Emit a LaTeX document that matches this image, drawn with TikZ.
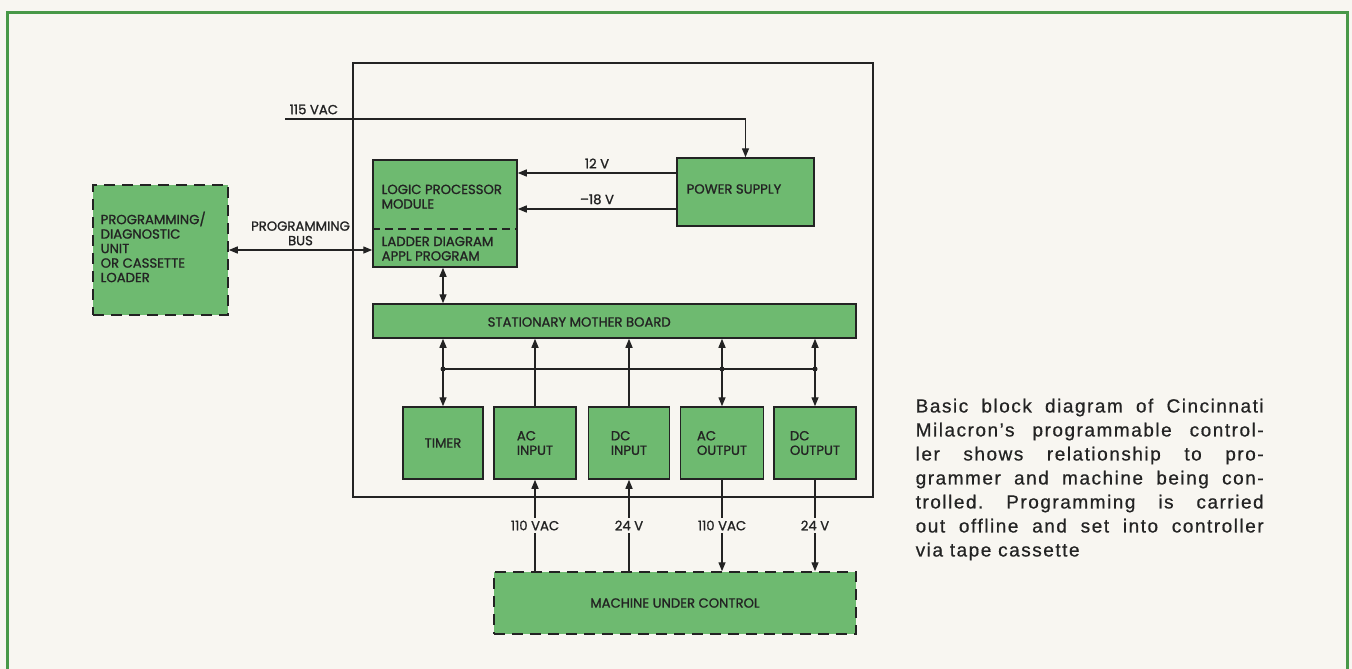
\documentclass[tikz,border=0pt]{standalone}
\usepackage{fontspec}
\usepackage{xcolor}
\usepackage{tikz}
\usetikzlibrary{arrows.meta,positioning}
\newfontfamily\boxfont[FakeBold=1.2]{Poppins}
\newfontfamily\capfont[LetterSpace=8, FakeBold=0.6]{Liberation Sans}
\definecolor{paper}{RGB}{248,246,241}
\definecolor{boxgreen}{RGB}{110,186,112}
\definecolor{framegreen}{RGB}{72,152,72}
\definecolor{ink}{RGB}{35,35,35}

\tikzset{
    block/.style={draw=ink, fill=boxgreen, line width=1.5pt, inner sep=0pt},
    dblock/.style={block, dash pattern=on 11pt off 7pt},
    lbl/.style={font=\boxfont\fontsize{13.2}{14.5}\selectfont, text=ink, align=left, inner sep=0pt},
    capstyle/.style={font=\capfont\fontsize{19}{24}\selectfont\frenchspacing, text=ink, text width=348pt, align=justify, inner sep=0pt}
}

\begin{document}
\begin{tikzpicture}[
    x=1pt, y=-1pt,
    >={Triangle[length=9pt,width=7pt]},
    line width=1.4pt,
    draw=ink
]

% Page and frame
\path[fill=paper, use as bounding box] (0,0) rectangle (1352,669);
\draw[framegreen, line width=3pt] (7,680) -- (7,13) -- (1347,13) -- (1347,680);

% Controller cabinet
\node[draw=ink, line width=1.5pt, minimum width=520, minimum height=434] (cab) at (613,280) {};

% Blocks
\node[dblock, minimum width=135, minimum height=130] (pdu) at (160.5,250) {};
\node[block, minimum width=144, minimum height=107] (lpm) at (445,213.5) {};
\draw[dash pattern=on 8pt off 5pt, line width=1.2pt] (lpm.west |- 0,229) -- (lpm.east |- 0,229);
\node[block, minimum width=137, minimum height=68] (psu) at (745.5,192) {};
\node[block, minimum width=483, minimum height=34] (board) at (614.5,321) {};
\node[dblock, minimum width=362, minimum height=62] (machine) at (675,603) {};

% I/O modules
\foreach \nm/\cx/\bw/\txt in {timer/443/80/TIMER, acin/535/82/{AC\\INPUT},
    dcin/629/81/{DC\\INPUT}, acout/722/83/{AC\\OUTPUT}, dcout/815/82/{DC\\OUTPUT}} {
    \node[block, minimum width=\bw, minimum height=72] (\nm) at (\cx,443) {};
    \node[lbl] (\nm-txt) at (\nm) {\txt};
}

% Block texts
\node[lbl, anchor=north west] (pdu-txt) at (100,211) {PROGRAMMING/\\DIAGNOSTIC\\UNIT\\OR CASSETTE\\LOADER};
\node[lbl, anchor=north west] (lpm-txt) at (381,184) {LOGIC PROCESSOR\\MODULE};
\node[lbl, anchor=north west] (ladder-txt) at (381,236) {LADDER DIAGRAM\\APPL PROGRAM};
\node[lbl, anchor=west] (psu-txt) at (686,189) {POWER SUPPLY};
\node[lbl, anchor=west] (board-txt) at (487,322) {STATIONARY MOTHER BOARD};
\node[lbl] (machine-txt) at (machine) {MACHINE UNDER CONTROL};

% Mains feed
\coordinate (mains) at (285,119);
\draw[->] (mains) -| (psu.north);
\node[lbl, anchor=south west] (vac115) at ([shift={(4,-4)}]mains) {115 VAC};

% Supply rails
\draw[->] ([yshift=19pt]psu.west) -- ([yshift=19pt]psu.west -| lpm.east)
    node[midway, above=4pt, lbl] (v12) {12 V};
\draw[->] ([yshift=-17pt]psu.west) -- ([yshift=-17pt]psu.west -| lpm.east)
    node[midway, above=4pt, lbl] (v18) {–18 V};

% Programming bus
\draw[<->] (pdu.east |- 0,250) -- (lpm.west |- 0,250)
    node[midway, above=4pt, lbl, align=center] (bus) {PROGRAMMING\\BUS};

% Processor to mother board
\draw[<->] (timer |- lpm.south) -- (timer |- board.north);

% Modules to mother board
\draw[<->] (timer.north) -- (timer |- board.south);
\draw[->] (acin.north) -- (acin |- board.south);
\draw[->] (dcin.north) -- (dcin |- board.south);
\draw[<->] (acout.north) -- (acout |- board.south);
\draw[<->] (dcout.north) -- (dcout |- board.south);
\draw (timer |- 0,369) -- (dcout |- 0,369);
\foreach \nm in {timer, acout, dcout}
    \fill[ink] (\nm |- 0,369) circle (2.5);

% Machine signals
\draw[->] (acin |- machine.north) -- (acin.south)
    node[midway, lbl, fill=paper, inner sep=3pt] (in110) {110 VAC};
\draw[->] (dcin |- machine.north) -- (dcin.south)
    node[midway, lbl, fill=paper, inner sep=3pt] (in24) {24 V};
\draw[->] (acout.south) -- (acout |- machine.north)
    node[midway, lbl, fill=paper, inner sep=3pt] (out110) {110 VAC};
\draw[->] (dcout.south) -- (dcout |- machine.north)
    node[midway, lbl, fill=paper, inner sep=3pt] (out24) {24 V};

% Caption
\node[capstyle, anchor=north west] (caption) at (915,398) {Basic block diagram of Cincinnati
    Milacron’s programmable control-\linebreak ler shows relationship to pro-\linebreak
    grammer and machine being con-\linebreak trolled. Programming is carried\linebreak
    out offline and set into controller\linebreak via tape cassette};
\end{tikzpicture}
\end{document}
